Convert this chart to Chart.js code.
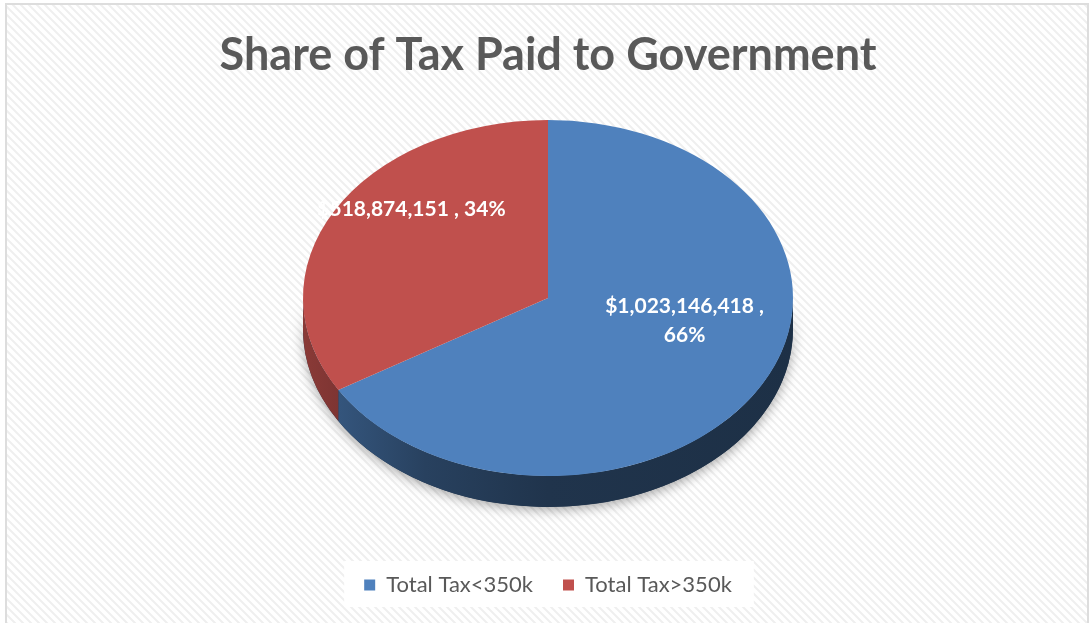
<!DOCTYPE html>
<html>
<head>
<meta charset="utf-8">
<title>Share of Tax Paid to Government</title>
<script src="https://cdn.jsdelivr.net/npm/chart.js@4.4.1/dist/chart.umd.min.js"></script>
<style>
  html, body { margin: 0; padding: 0; background: #fff; }
  #wrap { width: 1090px; height: 623px; }
</style>
</head>
<body>
<div id="wrap"><canvas id="taxChart"></canvas></div>
<script>
const categories = ["Total Tax<350k", "Total Tax>350k"];
const taxPaid = [1023146418, 518874151];
const sliceColors = ["#4F81BD", "#C0504D"];
const wrapLabel = [true, false];

// tilted pie: radii of the top face, height of the rim
const faceRx = 245, faceRy = 178, rimDepth = 31;
// data labels sit this far out along the slice middle, lifted a bit
const labelR = 0.64, labelLift = 33;

function shade(hex, k) {
  const n = parseInt(hex.slice(1), 16);
  const r = Math.round(((n >> 16) & 255) * k);
  const g = Math.round(((n >> 8) & 255) * k);
  const b = Math.round((n & 255) * k);
  return `rgb(${r},${g},${b})`;
}

function hatch(ctx) {
  const c = document.createElement("canvas");
  c.width = 8; c.height = 8;
  const p = c.getContext("2d");
  p.fillStyle = "#ffffff";
  p.fillRect(0, 0, 8, 8);
  p.strokeStyle = "#efefef";
  p.lineWidth = 2;
  p.beginPath();
  p.moveTo(-2, -2); p.lineTo(10, 10);
  p.moveTo(-2, 6); p.lineTo(2, 10);
  p.moveTo(6, -2); p.lineTo(10, 2);
  p.stroke();
  return ctx.createPattern(c, "repeat");
}

function rimPath(ctx, cx, cy, a1, a2) {
  ctx.beginPath();
  ctx.ellipse(cx, cy, faceRx, faceRy, 0, a1, a2);
  ctx.lineTo(cx + faceRx * Math.cos(a2), cy + faceRy * Math.sin(a2) + rimDepth);
  ctx.ellipse(cx, cy + rimDepth, faceRx, faceRy, 0, a2, a1, true);
  ctx.closePath();
}

const pie3d = {
  id: "pie3d",
  beforeDraw(chart) {
    const { ctx, width, height } = chart;
    ctx.save();
    ctx.fillStyle = "#fff";
    ctx.fillRect(0, 0, width, height);
    ctx.fillStyle = hatch(ctx);
    ctx.fillRect(7, 5, width - 9, height - 5);
    ctx.strokeStyle = "#dddddd";
    ctx.lineWidth = 2;
    ctx.beginPath();
    ctx.moveTo(6, height);
    ctx.lineTo(6, 4);
    ctx.lineTo(width - 2, 4);
    ctx.lineTo(width - 2, height);
    ctx.stroke();

    // white panel behind the legend
    const boxes = chart.legend && chart.legend.legendHitBoxes;
    if (boxes && boxes.length) {
      const first = boxes[0], last = boxes[boxes.length - 1];
      ctx.fillStyle = "#fff";
      ctx.fillRect(first.left - 20, first.top + first.height / 2 - 24,
        last.left + last.width - first.left + 42, 46);
    }
    ctx.restore();
  },
  beforeDatasetsDraw(chart) {
    const arcs = chart.getDatasetMeta(0).data;
    if (!arcs.length) return;
    const { ctx } = chart;
    const cx = arcs[0].x, cy = arcs[0].y, r = arcs[0].outerRadius;

    ctx.save();
    // soft shadow under the near rim
    ctx.save();
    ctx.shadowColor = "rgba(0,0,0,0.35)";
    ctx.shadowBlur = 12;
    ctx.shadowOffsetY = 3;
    rimPath(ctx, cx, cy, 0, Math.PI);
    ctx.fillStyle = shade(sliceColors[0], 0.4);
    ctx.fill();
    ctx.restore();

    // rim pieces, only the front half (0..PI) faces the viewer
    arcs.forEach((arc, i) => {
      const a1 = Math.max(arc.startAngle, 0);
      const a2 = Math.min(arc.endAngle, Math.PI);
      if (a2 <= a1) return;
      const col = sliceColors[i];
      const g = ctx.createLinearGradient(cx - faceRx, 0, cx + faceRx, 0);
      g.addColorStop(0, shade(col, 0.72));
      g.addColorStop(0.25, shade(col, 0.5));
      g.addColorStop(0.5, shade(col, 0.4));
      g.addColorStop(1, shade(col, 0.37));
      rimPath(ctx, cx, cy, a1, a2);
      ctx.fillStyle = g;
      ctx.fill();
    });

    // squash the flat pie into the tilted top face
    ctx.translate(cx, cy);
    ctx.scale(faceRx / r, faceRy / r);
    ctx.translate(-cx, -cy);
  },
  afterDatasetsDraw(chart) {
    const arcs = chart.getDatasetMeta(0).data;
    if (!arcs.length) return;
    const { ctx } = chart;
    ctx.restore();

    const cx = arcs[0].x, cy = arcs[0].y;
    const total = taxPaid.reduce((a, b) => a + b, 0);
    ctx.save();
    ctx.fillStyle = "#ffffff";
    ctx.font = "bold 21px Lato";
    ctx.textAlign = "center";
    ctx.textBaseline = "middle";
    arcs.forEach((arc, i) => {
      const mid = (arc.startAngle + arc.endAngle) / 2;
      const x = cx + Math.cos(mid) * faceRx * labelR;
      const y = cy + Math.sin(mid) * faceRy * labelR - labelLift;
      const money = "$" + taxPaid[i].toLocaleString("en-US");
      const pct = Math.round(taxPaid[i] / total * 100) + "%";
      const lines = wrapLabel[i] ? [money + " ,", pct] : [money + " , " + pct];
      lines.forEach((t, k) => {
        ctx.fillText(t, x, y + (k - (lines.length - 1) / 2) * 29);
      });
    });
    ctx.restore();
  }
};

new Chart(document.getElementById("taxChart"), {
  type: "pie",
  data: {
    labels: categories,
    datasets: [{
      data: taxPaid,
      backgroundColor: sliceColors,
      borderWidth: 0
    }]
  },
  options: {
    responsive: true,
    maintainAspectRatio: false,
    animation: false,
    events: [],
    layout: { padding: { left: 6, right: 0, top: 0, bottom: 17 } },
    plugins: {
      title: {
        display: true,
        text: "Share of Tax Paid to Government",
        color: "#595959",
        font: { family: "Lato", size: 45, weight: "bold", lineHeight: 1.2 },
        padding: { top: 28, bottom: -30 }
      },
      legend: {
        position: "bottom",
        labels: {
          boxWidth: 11,
          boxHeight: 11,
          padding: 30,
          color: "#595959",
          font: { family: "Lato", size: 22 }
        }
      },
      tooltip: { enabled: false }
    }
  },
  plugins: [pie3d]
});
</script>
</body>
</html>
